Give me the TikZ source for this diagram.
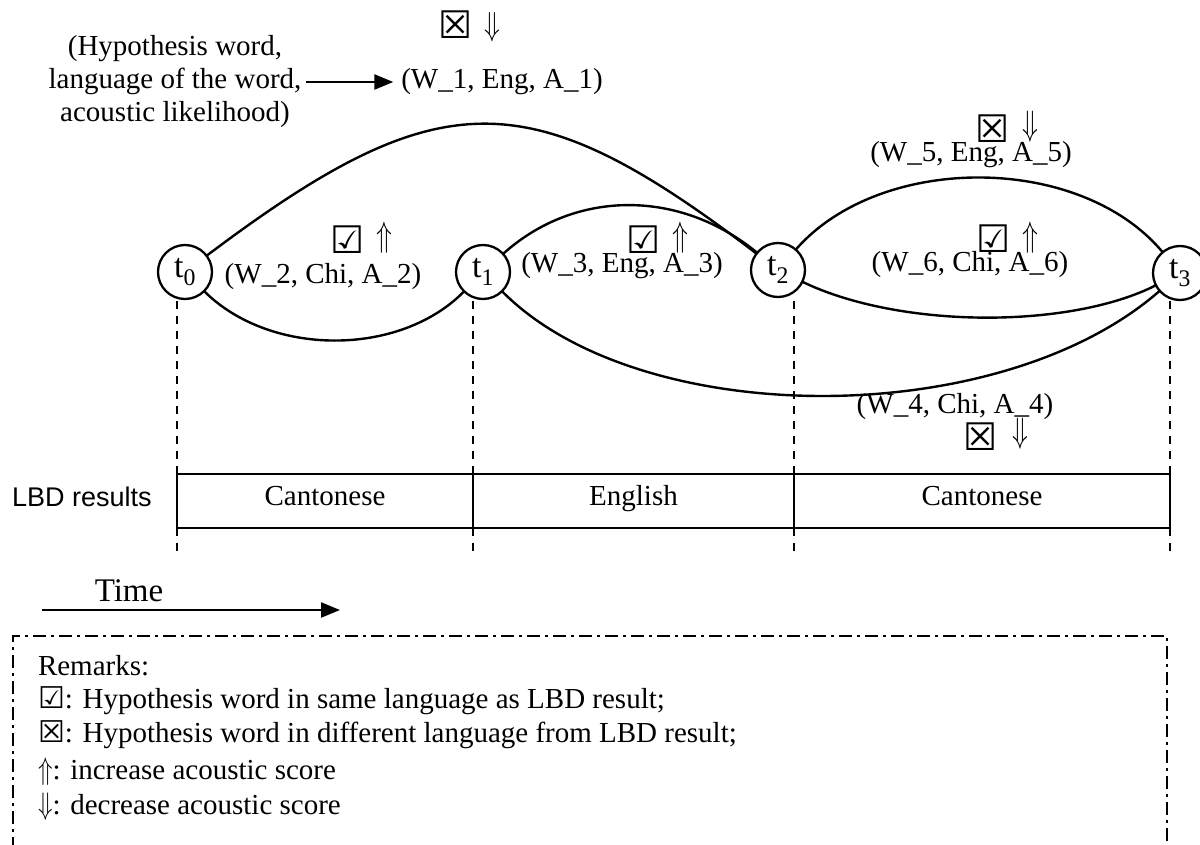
\documentclass[tikz,border=0pt]{standalone}
\usepackage{graphicx}
\usepackage{fontspec}
\setmainfont{Liberation Serif}
\newfontfamily\symf{DejaVu Sans}
\newfontfamily\arialf{Liberation Sans}
\usetikzlibrary{arrows.meta}
\newcommand\yesb[1]{{\symf\bfseries\fontsize{#1}{#1}\selectfont ☑}}
\newcommand\nob[1]{{\symf\bfseries\fontsize{#1}{#1}\selectfont ☒}}
\newcommand\upa[2]{{\fontsize{20}{20}\selectfont\scalebox{#1}[#2]{$\Uparrow$}}}
\newcommand\dna[2]{{\fontsize{20}{20}\selectfont\scalebox{#1}[#2]{$\Downarrow$}}}
\begin{document}
\begin{tikzpicture}[x=1pt,y=-1pt,
  every node/.style={inner sep=0pt,outer sep=0pt},
  txt/.style={font=\fontsize{29}{33}\selectfont},
  tnode/.style={circle,draw,line width=2.3pt,minimum size=54pt,inner sep=0pt,
    font=\fontsize{34}{34}\selectfont},
  arcline/.style={line width=2.4pt},
  vguide/.style={line width=1.8pt,dash pattern=on 8pt off 7pt},
  cell/.style={draw,line width=2.3pt,minimum height=54pt,text height=20pt,text depth=12pt,
    font=\fontsize{29}{33}\selectfont},
  rem/.style={anchor=base west,font=\fontsize{29}{33}\selectfont},
  arr/.style={line width=2.4pt,-{Triangle[length=19pt,width=15pt]}},
  dashdot/.style={line width=2pt,dash pattern=on 13pt off 5pt on 3pt off 5pt}
]
\useasboundingbox (0,0) rectangle (1200,845);

% time nodes
\node[tnode] (t0) at (185,272) {t\textsubscript{0}};
\node[tnode] (t1) at (483,272) {t\textsubscript{1}};
\node[tnode] (t2) at (778,270) {t\textsubscript{2}};
\node[tnode] (t3) at (1180,273) {t\textsubscript{3}};

% arcs
\draw[arcline] (t0) .. controls (440,80) and (529,80) .. (t2);
\draw[arcline] (t0) .. controls (270,357) and (400,357) .. (t1);
\draw[arcline] (t1) .. controls (575,189) and (680,189) .. (t2);
\draw[arcline] (t1) .. controls (640,431) and (1000,431) .. (t3);
\draw[arcline] (t2) .. controls (880,153) and (1080,153) .. (t3);
\draw[arcline] (t2) .. controls (900,329) and (1070,329) .. (t3);

% LBD cells
\node[cell,minimum width=296pt] (c1) at (325,501) {Cantonese};
\node[cell,minimum width=321pt] (c2) at (633.5,501) {English};
\node[cell,minimum width=376pt] (c3) at (982,501) {Cantonese};
\node[font=\arialf\fontsize{27}{27}\selectfont] (lbd) at (82,497) {LBD results};

% dashed guides
\foreach \c in {c1,c2,c3}{
  \draw[vguide] (\c.north west) -- (\c.north west |- 0,296);
  \draw[vguide] (\c.south west) -- ++(0,24);
}
\draw[vguide] (c3.north east) -- (c3.north east |- 0,296);
\draw[vguide] (c3.south east) -- ++(0,24);

% labels
\node[txt,align=center] (hyp) at (175,82) {(Hypothesis word,\\language of the word,\\acoustic likelihood)};
\node[txt] (w1) at (502,82) {(W\_1, Eng, A\_1)};
\draw[arr,shorten <=5pt,shorten >=8pt] (hyp.east) -- (w1.west);
\node (b1) at (456,25) {\nob{38}};
\node (u1) at (492,27) {\dna{1.25}{1.6}};

\node[txt] (w2) at (323,277) {(W\_2, Chi, A\_2)};
\node (b2) at (348,240) {\yesb{38}};
\node (u2) at (384,238) {\upa{1.25}{1.7}};

\node[txt] (w3) at (622,266) {(W\_3, Eng, A\_3)};
\node (b3) at (644,240) {\yesb{38}};
\node (u3) at (680,238) {\upa{1.25}{1.7}};

\node[txt] (w4) at (955,407) {(W\_4, Chi, A\_4)};
\node (b4) at (981,437) {\nob{38}};
\node (u4) at (1020,434) {\dna{1.25}{1.7}};

\node[txt] (w5) at (971,155) {(W\_5, Eng, A\_5)};
\node (b5) at (993,129) {\nob{38}};
\node (u5) at (1030,127) {\dna{1.25}{1.7}};

\node[txt] (w6) at (970,265) {(W\_6, Chi, A\_6)};
\node (b6) at (994,239) {\yesb{38}};
\node (u6) at (1030,238) {\upa{1.25}{1.7}};

% time arrow
\node[font=\fontsize{33}{33}\selectfont] (time) at (129,591) {Time};
\coordinate (ta) at (42,610);
\coordinate (tb) at (340,610);
\draw[arr] (ta) -- (tb);

% remarks box (open at the bottom)
\coordinate (ra) at (13,850);
\coordinate (rb) at (13,636);
\coordinate (rc) at (1167,636);
\coordinate (rd) at (1167,850);
\draw[dashdot] (ra) -- (rb) -- (rc) -- (rd);

\node[rem] (r0) at (38,675) {Remarks:};
\node[rem] (r1) at (38,708) {\yesb{30}: Hypothesis word in same language as LBD result;};
\node[rem] (r2) at (38,742) {\nob{30}: Hypothesis word in different language from LBD result;};
\node[rem] (r3) at (38,779) {\upa{1.15}{1.5}: increase acoustic score};
\node[rem] (r4) at (38,814) {\dna{1.15}{1.5}: decrease acoustic score};
\end{tikzpicture}
\end{document}
